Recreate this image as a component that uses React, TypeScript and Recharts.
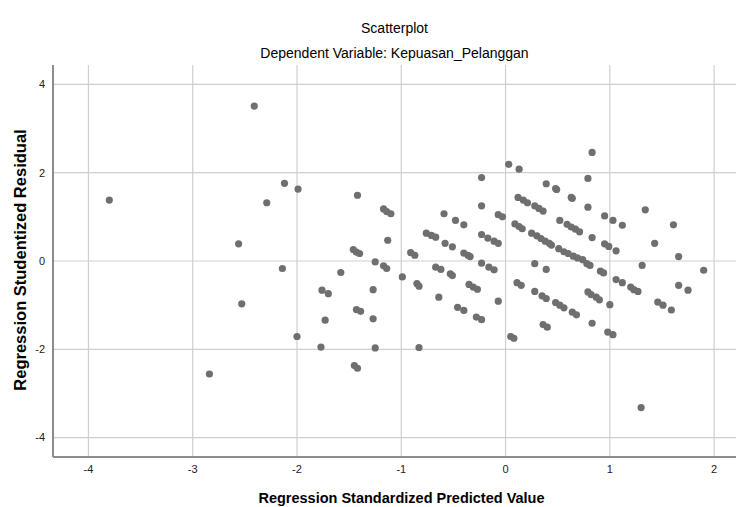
import React from 'react';
import { ScatterChart, Scatter, XAxis, YAxis, CartesianGrid } from 'recharts';

const predicted: number[] = [
  -3.80, -2.41, -2.12, -2.29, -2.56, -2.14, -2.53, -2.84, -1.99, -2.00,
  -1.42, -1.17, -1.14, -1.10, -1.13, -1.46, -1.43, -1.40, -1.25, -1.17,
  -1.14, -1.58, -1.76, -1.70, -1.27, -1.43, -1.39, -1.73, -1.27, -1.77,
  -1.25, -1.45, -1.42,
  -0.91, -0.87, -0.99, -0.85, -0.83, -0.83, -0.23, -0.23, -0.59, -0.48,
  -0.40, -0.07, -0.03, -0.76, -0.71, -0.67, -0.58, -0.51, -0.40, -0.36,
  -0.34, -0.23, -0.17, -0.11, -0.07, -0.67, -0.62, -0.53, -0.51, -0.35,
  -0.31, -0.27, -0.64, -0.46, -0.40, -0.28, -0.23, -0.07, -0.23, -0.16,
  -0.11, 0.05, 0.08,
  0.03, 0.13, 0.83, 0.79, 0.39, 0.48, 0.49, 0.63, 0.64, 0.79,
  0.12, 0.17, 0.21, 0.28, 0.32, 0.36, 0.52, 0.59, 0.63, 0.67,
  0.71, 0.95, 1.03, 1.12, 1.34, 1.61, 1.43, 1.66, 0.09, 0.13,
  0.16, 0.25, 0.30, 0.34, 0.38, 0.42, 0.44, 0.83, 0.95, 0.99,
  1.06, 0.51, 0.56, 0.60, 0.65, 0.69, 0.74, 0.78, 0.81, 0.28,
  0.39, 0.91, 0.94, 1.31, 1.90, 0.11, 0.15, 0.28, 0.35, 0.39,
  0.48, 0.52, 0.56, 0.64, 0.68, 0.79, 0.82, 0.87, 0.90, 1.00,
  1.06, 1.12, 1.20, 1.23, 1.27, 1.66, 1.75, 1.46, 1.51, 1.59,
  0.83, 0.36, 0.40, 0.98, 1.03, 1.30,
];

const residual: number[] = [
  1.38, 3.51, 1.76, 1.32, 0.39, -0.17, -0.97, -2.56, 1.63, -1.71,
  1.49, 1.18, 1.12, 1.07, 0.47, 0.26, 0.20, 0.17, -0.02, -0.11,
  -0.17, -0.26, -0.66, -0.74, -0.65, -1.10, -1.14, -1.34, -1.31, -1.95,
  -1.97, -2.37, -2.43,
  0.19, 0.13, -0.36, -0.51, -0.57, -1.96, 1.89, 1.25, 1.07, 0.92,
  0.82, 1.05, 1.00, 0.63, 0.58, 0.54, 0.40, 0.32, 0.18, 0.13,
  0.10, 0.60, 0.52, 0.45, 0.40, -0.14, -0.19, -0.29, -0.33, -0.53,
  -0.59, -0.64, -0.82, -1.05, -1.12, -1.27, -1.33, -0.91, -0.05, -0.14,
  -0.20, -1.71, -1.75,
  2.19, 2.08, 2.46, 1.87, 1.75, 1.64, 1.62, 1.44, 1.42, 1.22,
  1.44, 1.38, 1.32, 1.25, 1.19, 1.13, 0.92, 0.83, 0.77, 0.72,
  0.66, 1.02, 0.92, 0.81, 1.16, 0.82, 0.40, 0.10, 0.84, 0.78,
  0.73, 0.63, 0.57, 0.51, 0.45, 0.40, 0.36, 0.53, 0.39, 0.33,
  0.23, 0.28, 0.21, 0.17, 0.11, 0.07, 0.03, -0.06, -0.10, -0.06,
  -0.19, -0.23, -0.27, -0.10, -0.21, -0.49, -0.55, -0.69, -0.79, -0.85,
  -0.94, -1.00, -1.06, -1.16, -1.22, -0.70, -0.76, -0.82, -0.88, -0.99,
  -0.42, -0.49, -0.59, -0.65, -0.69, -0.55, -0.66, -0.93, -1.00, -1.11,
  -1.41, -1.44, -1.50, -1.61, -1.67, -3.32,
];

const xTicks: number[] = [-4, -3, -2, -1, 0, 1, 2];
const yTicks: number[] = [-4, -2, 0, 2, 4];

const points = predicted.map((x, i) => ({ x, y: residual[i] }));

const Dot = (props: any) => (
  <circle cx={props.cx} cy={props.cy} r={3.6} fill="#6f6f6f" />
);

const tickStyle = {
  fontFamily: '"Liberation Sans Narrow", "Liberation Sans", Arial, sans-serif',
  fontSize: 11,
  fill: '#222',
};

export default function App() {
  return (
    <div style={{ position: 'absolute', left: 0, top: 0, width: 736, height: 507, background: '#fff', fontFamily: '"Liberation Sans", Arial, sans-serif' }}>
      <ScatterChart width={736} height={507} margin={{ top: 65, right: 0, bottom: 0, left: 0 }}>
        <CartesianGrid stroke="#cfcfcf" strokeWidth={1.2} horizontalValues={yTicks} verticalValues={xTicks} />
        <XAxis
          type="number"
          dataKey="x"
          domain={[-4.34, 2.21]}
          ticks={xTicks}
          height={50}
          tickLine={false}
          axisLine={{ stroke: '#8c8c8c', strokeWidth: 2 }}
          tick={tickStyle}
          allowDataOverflow
        />
        <YAxis
          type="number"
          dataKey="y"
          domain={[-4.44, 4.44]}
          ticks={yTicks}
          width={53}
          tickLine={false}
          axisLine={{ stroke: '#8c8c8c', strokeWidth: 2 }}
          tick={tickStyle}
          allowDataOverflow
        />
        <Scatter data={points} shape={Dot} isAnimationActive={false} />
      </ScatterChart>
      <div style={{ position: 'absolute', left: 53, width: 683, top: 20, lineHeight: '16px', textAlign: 'center', fontSize: 14, color: '#000' }}>
        Scatterplot
      </div>
      <div style={{ position: 'absolute', left: 53, width: 683, top: 45, lineHeight: '16px', textAlign: 'center', fontSize: 14, color: '#000' }}>
        Dependent Variable: Kepuasan_Pelanggan
      </div>
      <div style={{ position: 'absolute', left: 60, width: 683, top: 489, lineHeight: '18px', textAlign: 'center', fontSize: 14.5, fontWeight: 'bold', color: '#000' }}>
        Regression Standardized Predicted Value
      </div>
      <div style={{ position: 'absolute', left: 20 - 200, top: 260 - 10, width: 400, textAlign: 'center', fontSize: 16.5, fontWeight: 'bold', color: '#000', transform: 'rotate(-90deg)', transformOrigin: '50% 50%', lineHeight: '20px' }}>
        Regression Studentized Residual
      </div>
    </div>
  );
}
